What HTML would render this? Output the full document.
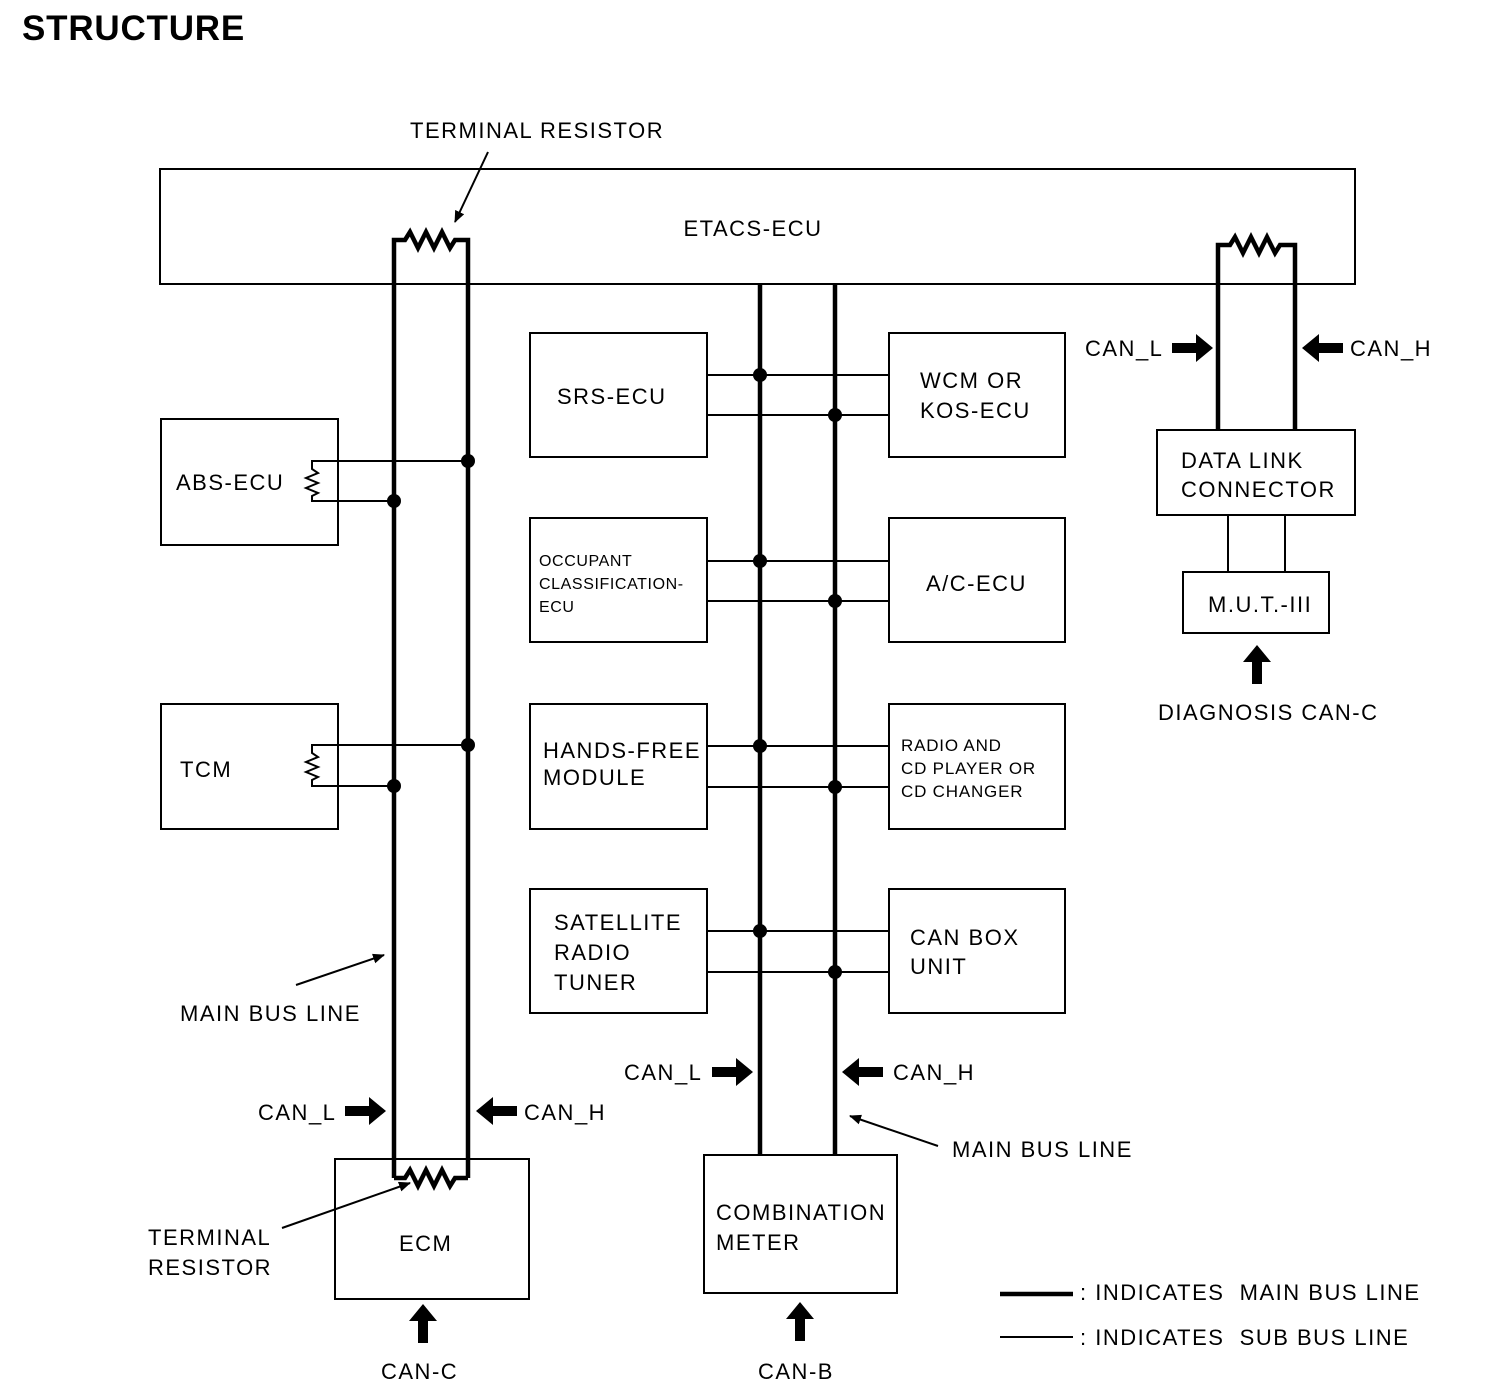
<!DOCTYPE html>
<html><head><meta charset="utf-8"><style>
html,body{margin:0;padding:0;background:#fff;}
svg{display:block;}
text{font-family:"Liberation Sans",sans-serif;fill:#000;white-space:pre;}
.t{letter-spacing:1.5px;}
</style></head><body>
<svg width="1504" height="1400" viewBox="0 0 1504 1400" xmlns="http://www.w3.org/2000/svg">
<defs>
<marker id="ah" markerWidth="12" markerHeight="10" refX="11" refY="5" orient="auto" markerUnits="userSpaceOnUse">
<path d="M0,0 L12,5 L0,10 Z" fill="#000"/></marker>
</defs>
<text x="22" y="40" font-size="35" font-weight="bold" letter-spacing="0.8">STRUCTURE</text>

<g fill="none" stroke="#000" stroke-width="2">
<rect x="160" y="169" width="1195" height="115"/>
<rect x="530" y="333" width="177" height="124"/>
<rect x="889" y="333" width="176" height="124"/>
<rect x="530" y="518" width="177" height="124"/>
<rect x="889" y="518" width="176" height="124"/>
<rect x="530" y="704" width="177" height="125"/>
<rect x="889" y="704" width="176" height="125"/>
<rect x="530" y="889" width="177" height="124"/>
<rect x="889" y="889" width="176" height="124"/>
<rect x="161" y="419" width="177" height="126"/>
<rect x="161" y="704" width="177" height="125"/>
<rect x="335" y="1159" width="194" height="140"/>
<rect x="704" y="1155" width="193" height="138"/>
<rect x="1157" y="430" width="198" height="85"/>
<rect x="1183" y="572" width="146" height="61"/>
<line x1="1228" y1="515" x2="1228" y2="572"/>
<line x1="1285" y1="515" x2="1285" y2="572"/>
</g>

<g fill="none" stroke="#000" stroke-width="4.5">
<polyline points="394,1178 394,240 405,240 410,232 418,248 426,232 434,248 442,232 450,248 455,240 468,240 468,1178"/>
<polyline points="394,1178 405,1178 410,1170 418,1186 426,1170 434,1186 442,1170 450,1186 455,1178 468,1178"/>
<line x1="760" y1="284" x2="760" y2="1155"/>
<line x1="835" y1="284" x2="835" y2="1155"/>
<polyline points="1218,430 1218,245 1230,245 1235,237 1243,253 1251,237 1259,253 1267,237 1275,253 1280,245 1295,245 1295,430"/>
<line x1="1000" y1="1294" x2="1073" y2="1294"/>
</g>

<g fill="none" stroke="#000" stroke-width="2">
<line x1="707" y1="375" x2="889" y2="375"/><line x1="707" y1="415" x2="889" y2="415"/>
<line x1="707" y1="561" x2="889" y2="561"/><line x1="707" y1="601" x2="889" y2="601"/>
<line x1="707" y1="746" x2="889" y2="746"/><line x1="707" y1="787" x2="889" y2="787"/>
<line x1="707" y1="931" x2="889" y2="931"/><line x1="707" y1="972" x2="889" y2="972"/>
<polyline points="468,461 312,461 312,469 318,473 306,478 318,483 306,488 318,493 312,496 312,501 394,501"/>
<polyline points="468,745 312,745 312,753 318,757 306,762 318,767 306,772 318,777 312,780 312,786 394,786"/>
<line x1="1000" y1="1337" x2="1073" y2="1337"/>
<line x1="488" y1="152" x2="455" y2="222" marker-end="url(#ah)"/>
<line x1="296" y1="985" x2="384" y2="955" marker-end="url(#ah)"/>
<line x1="938" y1="1146" x2="850" y2="1116" marker-end="url(#ah)"/>
<line x1="282" y1="1228" x2="410" y2="1183" marker-end="url(#ah)"/>
</g>

<g fill="#000">
<circle cx="760" cy="375" r="7"/><circle cx="835" cy="415" r="7"/>
<circle cx="760" cy="561" r="7"/><circle cx="835" cy="601" r="7"/>
<circle cx="760" cy="746" r="7"/><circle cx="835" cy="787" r="7"/>
<circle cx="760" cy="931" r="7"/><circle cx="835" cy="972" r="7"/>
<circle cx="468" cy="461" r="7"/><circle cx="394" cy="501" r="7"/>
<circle cx="468" cy="745" r="7"/><circle cx="394" cy="786" r="7"/>
<path d="M1172,343 h24 v-9 l17,14 l-17,14 v-9 h-24 z"/>
<path d="M1343,343 h-24 v-9 l-17,14 l17,14 v-9 h24 z"/>
<path d="M712,1067 h24 v-9 l17,14 l-17,14 v-9 h-24 z"/>
<path d="M883,1067 h-24 v-9 l-17,14 l17,14 v-9 h24 z"/>
<path d="M345,1106 h24 v-9 l17,14 l-17,14 v-9 h-24 z"/>
<path d="M517,1106 h-24 v-9 l-17,14 l17,14 v-9 h24 z"/>
<path d="M418,1343 v-22 h-9 l14,-17 l14,17 h-9 v22 z"/>
<path d="M795,1341 v-22 h-9 l14,-17 l14,17 h-9 v22 z"/>
<path d="M1252,684 v-22 h-9 l14,-17 l14,17 h-9 v22 z"/>
</g>

<g font-size="22" class="t">
<text x="410" y="138">TERMINAL RESISTOR</text>
<text x="753" y="236" text-anchor="middle">ETACS-ECU</text>
<text x="557" y="404">SRS-ECU</text>
<text x="920" y="388">WCM OR</text>
<text x="920" y="418">KOS-ECU</text>
<text x="176" y="490">ABS-ECU</text>
<text x="539" y="566" font-size="16" letter-spacing="0.6">OCCUPANT</text>
<text x="539" y="589" font-size="16" letter-spacing="0.6">CLASSIFICATION-</text>
<text x="539" y="612" font-size="16" letter-spacing="0.6">ECU</text>
<text x="926" y="591">A/C-ECU</text>
<text x="180" y="777">TCM</text>
<text x="543" y="758">HANDS-FREE</text>
<text x="543" y="785">MODULE</text>
<text x="901" y="751" font-size="17" letter-spacing="0.8">RADIO AND</text>
<text x="901" y="774" font-size="17" letter-spacing="0.8">CD PLAYER OR</text>
<text x="901" y="797" font-size="17" letter-spacing="0.8">CD CHANGER</text>
<text x="554" y="930">SATELLITE</text>
<text x="554" y="960">RADIO</text>
<text x="554" y="990">TUNER</text>
<text x="910" y="945">CAN BOX</text>
<text x="910" y="974">UNIT</text>
<text x="1085" y="356">CAN_L</text>
<text x="1350" y="356">CAN_H</text>
<text x="1181" y="468">DATA LINK</text>
<text x="1181" y="497">CONNECTOR</text>
<text x="1208" y="612">M.U.T.-III</text>
<text x="1158" y="720">DIAGNOSIS CAN-C</text>
<text x="180" y="1021">MAIN BUS LINE</text>
<text x="624" y="1080">CAN_L</text>
<text x="893" y="1080">CAN_H</text>
<text x="258" y="1120">CAN_L</text>
<text x="524" y="1120">CAN_H</text>
<text x="952" y="1157">MAIN BUS LINE</text>
<text x="716" y="1220">COMBINATION</text>
<text x="716" y="1250">METER</text>
<text x="148" y="1245">TERMINAL</text>
<text x="148" y="1275">RESISTOR</text>
<text x="399" y="1251">ECM</text>
<text x="1080" y="1300">: INDICATES  MAIN BUS LINE</text>
<text x="1080" y="1345">: INDICATES  SUB BUS LINE</text>
<text x="381" y="1379">CAN-C</text>
<text x="758" y="1379">CAN-B</text>
</g>
</svg>
</body></html>
